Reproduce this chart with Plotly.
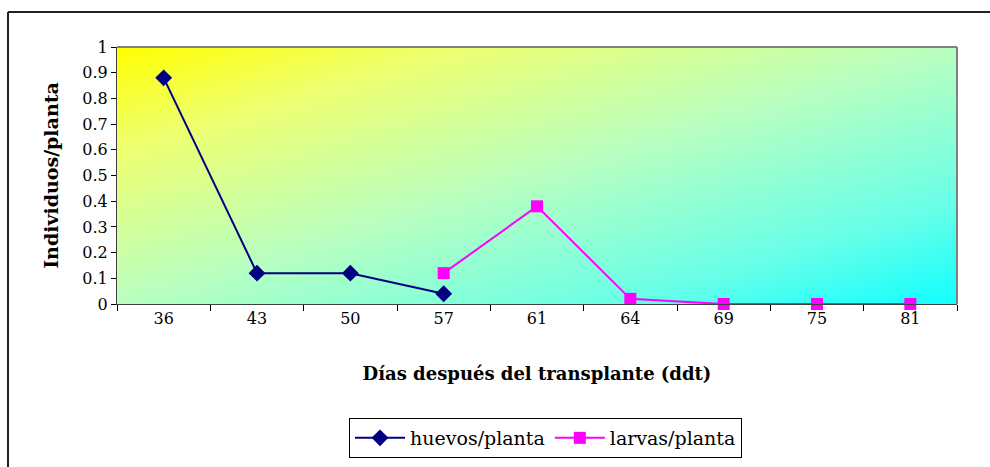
import plotly.graph_objects as go

# ---- data ----
dias = ["36", "43", "50", "57", "61", "64", "69", "75", "81"]
huevos = [0.88, 0.12, 0.12, 0.04, None, None, None, None, None]
larvas = [None, None, None, 0.12, 0.38, 0.02, 0.0, 0.0, 0.0]
y_ticks = [0, 0.1, 0.2, 0.3, 0.4, 0.5, 0.6, 0.7, 0.8, 0.9, 1]
y_ticktext = ["0", "0.1", "0.2", "0.3", "0.4", "0.5", "0.6", "0.7", "0.8", "0.9", "1"]

FONT = "DejaVu Serif"

fig = go.Figure()

# gradient background (yellow top-left -> cyan bottom-right) on hidden base axes
fig.add_trace(go.Heatmap(
    x=[0, 1], y=[0, 1], z=[[0.5, 1.0], [0.0, 0.5]],
    zsmooth="best", showscale=False, hoverinfo="skip",
    colorscale=[[0.0, "#FFFF00"], [0.2, "#EEFF70"], [0.5, "#B8FFC0"],
                [0.8, "#68FFE8"], [1.0, "#10FFFF"]],
    zmin=0, zmax=1, xaxis="x", yaxis="y", showlegend=False,
))

fig.add_trace(go.Scatter(
    x=dias, y=huevos, name="huevos/planta", mode="lines+markers",
    line=dict(color="#000080", width=2),
    marker=dict(symbol="diamond", size=13, color="#000080"),
    xaxis="x2", yaxis="y2", connectgaps=False, cliponaxis=False,
))
fig.add_trace(go.Scatter(
    x=dias, y=larvas, name="larvas/planta", mode="lines+markers",
    line=dict(color="#FF00FF", width=2),
    marker=dict(symbol="square", size=12, color="#FF00FF"),
    xaxis="x2", yaxis="y2", connectgaps=False, cliponaxis=False,
))

L, R, T, B = 117, 957, 47, 304
W, H = 990, 467

def px(x):
    return (x - L) / (R - L)

def py(y):
    return (B - y) / (B - T)

fig.update_layout(
    width=W, height=H,
    margin=dict(l=L, r=W - R, t=T, b=H - B, autoexpand=False),
    paper_bgcolor="white", plot_bgcolor="white",
    font=dict(family=FONT, color="black", size=16),
    xaxis=dict(range=[0, 1], visible=False, fixedrange=True, automargin=False),
    yaxis=dict(range=[0, 1], visible=False, fixedrange=True, automargin=False),
    xaxis2=dict(
        type="category", categoryorder="array", categoryarray=dias,
        overlaying="x", anchor="y2", side="bottom",
        range=[-0.5, 8.5], automargin=False,
        tickson="boundaries", ticks="outside", ticklen=6, tickcolor="black",
        tickfont=dict(family=FONT, size=16),
        showline=True, linecolor="#404040", linewidth=1, mirror=False,
        showgrid=False, zeroline=False,
        title=dict(text="<b>Días después del transplante (ddt)</b>",
                   font=dict(family=FONT, size=18), standoff=40),
    ),
    yaxis2=dict(
        overlaying="y", anchor="x2", side="left",
        range=[0, 1], tickvals=y_ticks, ticktext=y_ticktext, automargin=False,
        ticks="outside", ticklen=5, tickcolor="black",
        tickfont=dict(family=FONT, size=16),
        showline=True, linecolor="#404040", linewidth=1,
        showgrid=False, zeroline=False,
        title=dict(text="<b>Individuos/planta</b>",
                   font=dict(family=FONT, size=19), standoff=18),
    ),
    legend=dict(
        orientation="h", x=px(349), y=py(418), xanchor="left", yanchor="top",
        bgcolor="white", bordercolor="black", borderwidth=1,
        font=dict(family=FONT, size=19), itemwidth=50,
    ),
    showlegend=True,
    shapes=[
        # gray plot-area frame (top and right)
        dict(type="line", xref="paper", yref="paper", x0=0, x1=1, y0=1, y1=1,
             line=dict(color="#808080", width=2), layer="above"),
        dict(type="line", xref="paper", yref="paper", x0=1, x1=1, y0=0, y1=1,
             line=dict(color="#808080", width=2), layer="above"),
        # outer chart border (top and left visible)
        dict(type="line", xref="paper", yref="paper",
             x0=px(8), x1=px(995), y0=py(12), y1=py(12),
             line=dict(color="#222222", width=2)),
        dict(type="line", xref="paper", yref="paper",
             x0=px(8), x1=px(8), y0=py(12), y1=py(475),
             line=dict(color="#222222", width=2)),
    ],
)

fig.write_html("out.html")
